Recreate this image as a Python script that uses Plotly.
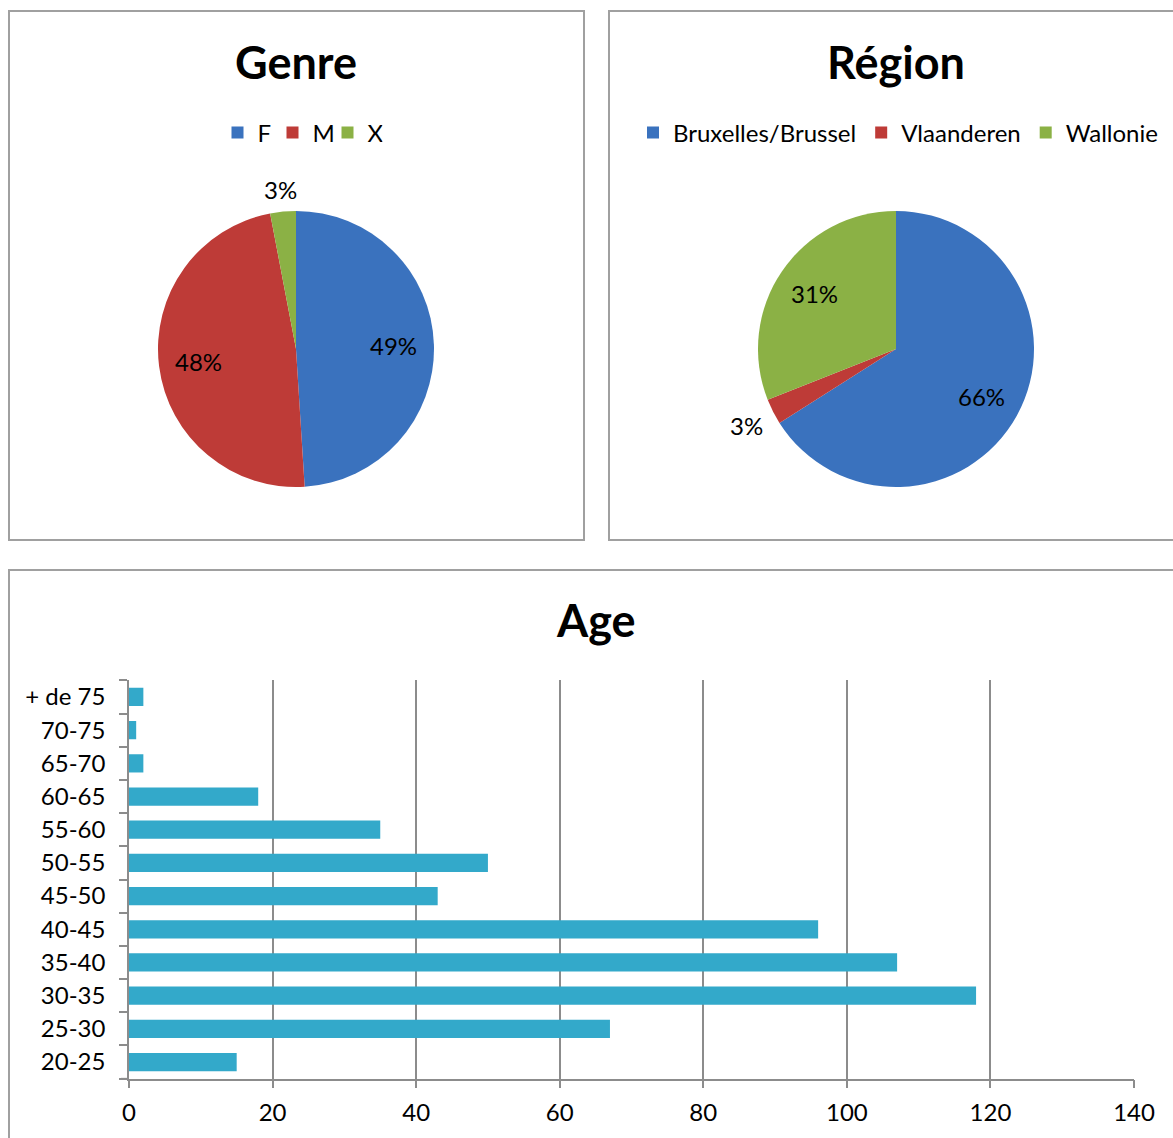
import math
import plotly.graph_objects as go

W, H = 1173, 1138
FONT = "Lato"

# Genre
genre_labels = ["F", "M", "X"]
genre_values = [49, 48, 3]
genre_colors = ["#3A72BE", "#BE3B37", "#8BB145"]
genre_outside = [False, False, True]

# Région
region_labels = ["Bruxelles/Brussel", "Vlaanderen", "Wallonie"]
region_values = [66, 3, 31]
region_colors = ["#3A72BE", "#BE3B37", "#8BB145"]
region_outside = [False, True, False]

# Age
age_groups = ["20-25", "25-30", "30-35", "35-40", "40-45", "45-50",
              "50-55", "55-60", "60-65", "65-70", "70-75", "+ de 75"]
age_counts = [15, 67, 118, 107, 96, 43, 50, 35, 18, 2, 1, 2]
age_ticks = [0, 20, 40, 60, 80, 100, 120, 140]

# pie geometry in pixels (centre x, centre y, radius)
PIE_R = 138
GENRE_C = (296, 349)
REGION_C = (896, 349)


def px(x):
    return x / W


def py(y):
    return 1 - y / H


def pie_domain(c):
    cx, cy = c
    return dict(x=[px(cx - PIE_R), px(cx + PIE_R)],
                y=[py(cy + PIE_R), py(cy - PIE_R)])


def pie_labels(values, outside, c, size=24):
    """Percent labels placed at each slice's mid-angle (clockwise from 12 o'clock)."""
    cx, cy = c
    total = sum(values)
    cum = 0
    out = []
    for v, is_out in zip(values, outside):
        mid = 2 * math.pi * (cum + v / 2) / total
        cum += v
        s, co = math.sin(mid), math.cos(mid)
        if is_out:
            half_w, half_h = 17, 11
            r = PIE_R + 10 + abs(s) * half_w + abs(co) * half_h
        else:
            r = PIE_R * 0.71
        out.append(dict(
            text=f"{round(100 * v / total)}%",
            x=px(cx + r * s), y=py(cy - r * co),
            xref="paper", yref="paper", showarrow=False,
            xanchor="center", yanchor="middle",
            font=dict(family=FONT, size=size, color="black"),
        ))
    return out


fig = go.Figure()

fig.add_trace(go.Pie(
    labels=genre_labels, values=genre_values,
    marker=dict(colors=genre_colors),
    sort=False, direction="clockwise", rotation=0,
    textinfo="none",
    domain=pie_domain(GENRE_C),
    legend="legend", showlegend=True, hoverinfo="label+percent",
))

fig.add_trace(go.Pie(
    labels=region_labels, values=region_values,
    marker=dict(colors=region_colors),
    sort=False, direction="clockwise", rotation=0,
    textinfo="none",
    domain=pie_domain(REGION_C),
    legend="legend2", showlegend=True, hoverinfo="label+percent",
))

fig.add_trace(go.Bar(
    x=age_counts, y=age_groups, orientation="h",
    marker=dict(color="#33A9CA", line=dict(width=0)),
    showlegend=False, xaxis="x", yaxis="y",
))

border = dict(color="#A0A0A0", width=2)
grid = "#8C8C8C"
shapes = [
    dict(type="rect", xref="paper", yref="paper",
         x0=px(9), x1=px(584), y0=py(540), y1=py(11), line=border),
    dict(type="rect", xref="paper", yref="paper",
         x0=px(609), x1=px(1180), y0=py(540), y1=py(11), line=border),
    dict(type="rect", xref="paper", yref="paper",
         x0=px(9), x1=px(1180), y0=py(1150), y1=py(570), line=border),
    # short extension of the category axis baseline under the tick marks
    dict(type="line", xref="paper", yref="paper",
         x0=px(121), x1=px(129), y0=py(1078.6), y1=py(1078.6),
         line=dict(color=grid, width=1.5)),
]

title_font = dict(family=FONT, size=45, color="black")
annotations = [
    dict(text="<b>Genre</b>", x=px(296), y=py(62), xref="paper", yref="paper",
         showarrow=False, font=title_font, xanchor="center", yanchor="middle"),
    dict(text="<b>Région</b>", x=px(896), y=py(62), xref="paper", yref="paper",
         showarrow=False, font=title_font, xanchor="center", yanchor="middle"),
    dict(text="<b>Age</b>", x=px(596), y=py(620), xref="paper", yref="paper",
         showarrow=False, font=title_font, xanchor="center", yanchor="middle"),
]
annotations += pie_labels(genre_values, genre_outside, GENRE_C)
annotations += pie_labels(region_values, region_outside, REGION_C)

legend_font = dict(family=FONT, size=24, color="black")

fig.update_layout(
    width=W, height=H,
    margin=dict(l=0, r=0, t=0, b=0, autoexpand=False),
    paper_bgcolor="white", plot_bgcolor="white",
    font=dict(family=FONT, size=24, color="black"),
    shapes=shapes, annotations=annotations,
    legend=dict(orientation="h", x=px(300), y=py(133), xanchor="center",
                yanchor="middle", font=legend_font, bgcolor="rgba(0,0,0,0)",
                itemwidth=30, tracegroupgap=0, entrywidth=10,
                entrywidthmode="pixels"),
    legend2=dict(orientation="h", x=px(898), y=py(133), xanchor="center",
                 yanchor="middle", font=legend_font, bgcolor="rgba(0,0,0,0)",
                 itemwidth=30, tracegroupgap=0),
    xaxis=dict(domain=[px(129), px(1134)], anchor="y", range=[0, 140],
               tickvals=age_ticks, showgrid=True, gridcolor=grid, gridwidth=1.5,
               zeroline=False, showline=True, linecolor=grid, linewidth=1.5,
               ticks="outside", ticklen=8, tickcolor=grid, tickwidth=1.5,
               tickfont=dict(family=FONT, size=24, color="black"),
               ticklabelstandoff=4, automargin=False, fixedrange=True),
    yaxis=dict(domain=[py(1078.6), py(680.4)], anchor="x", type="category",
               categoryorder="array", categoryarray=age_groups,
               showgrid=False, showline=True, linecolor=grid, linewidth=1.5,
               ticks="outside", ticklen=8, tickcolor=grid, tickwidth=1.5,
               tickson="boundaries",
               tickfont=dict(family=FONT, size=24, color="black"),
               ticklabelstandoff=17, automargin=False, fixedrange=True),
    bargap=0.45,
)

fig.write_html("out.html")
